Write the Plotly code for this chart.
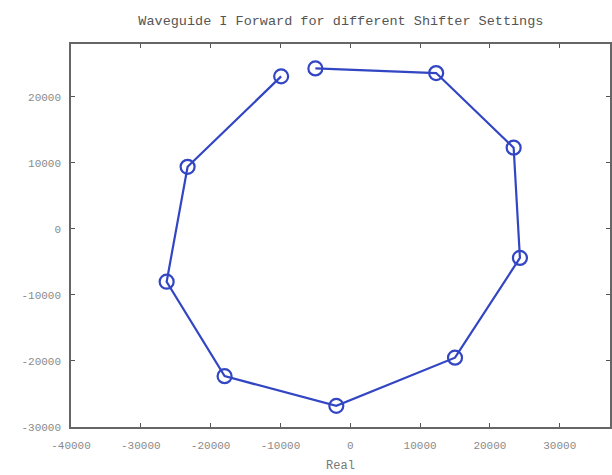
import plotly.graph_objects as go

# Data (Real, Imag) for each shifter setting
real_vals = [-5000, 12300, 23400, 24300, 15000, -2000, -18000, -26300, -23300, -9900]
imag_vals = [24300, 23600, 12300, -4400, -19500, -26800, -22300, -8000, 9400, 23100]

x_ticks = [-40000, -30000, -20000, -10000, 0, 10000, 20000, 30000]
y_ticks = [-30000, -20000, -10000, 0, 10000, 20000]

title_text = "Waveguide I Forward for different Shifter Settings"
x_label = "Real"

blue = "rgb(50,70,195)"

fig = go.Figure()
fig.add_trace(go.Scatter(
    x=real_vals, y=imag_vals,
    mode="lines+markers",
    line=dict(color=blue, width=2.2),
    marker=dict(symbol="circle-open", size=14, color=blue, line=dict(width=2.2, color=blue)),
    showlegend=False,
))

mono = "Liberation Mono, DejaVu Sans Mono, monospace"
tick_font = dict(family=mono, size=11, color="#8a8a8a")

fig.update_layout(
    width=612, height=475,
    margin=dict(l=71, r=0, t=44, b=48),
    paper_bgcolor="white",
    plot_bgcolor="white",
    title=dict(
        text=title_text,
        x=0.557, xanchor="center",
        y=0.958, yanchor="middle",
        font=dict(family=mono, size=13.5, color="#555555"),
    ),
    xaxis=dict(
        range=[-40000, 37200],
        tickvals=x_ticks,
        ticktext=[str(v) for v in x_ticks],
        ticks="inside", ticklen=4, tickwidth=1, tickcolor="#555555",
        showline=True, linecolor="#666666", linewidth=1.5, mirror="ticks",
        showgrid=False, zeroline=False,
        tickfont=tick_font,
        ticklabelstandoff=7,
        title=dict(text=x_label, font=dict(family=mono, size=12, color="#777777"), standoff=10),
    ),
    yaxis=dict(
        range=[-30000, 28000],
        tickvals=y_ticks,
        ticktext=[str(v) for v in y_ticks],
        ticks="inside", ticklen=4, tickwidth=1, tickcolor="#555555",
        showline=True, linecolor="#666666", linewidth=1.5, mirror="ticks",
        showgrid=False, zeroline=False,
        tickfont=tick_font,
        ticklabelstandoff=6,
    ),
)

fig.write_html("out.html")
